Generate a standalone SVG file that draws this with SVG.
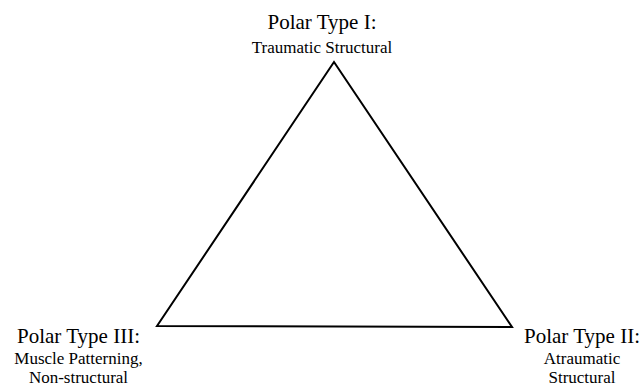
<svg xmlns="http://www.w3.org/2000/svg" width="644" height="386" viewBox="0 0 644 386">
<style>
.t{font-family:"Liberation Serif","Times New Roman",serif;fill:#000;text-anchor:middle}
.h{font-size:21px}
.s{font-size:17px}
.edge{fill:none;stroke:#000;stroke-width:2;stroke-linejoin:miter}
</style>
<rect width="644" height="386" fill="#fff"/>
<g id="connectors">
<polygon class="edge" points="334,62 157,326 512,327"/>
</g>
<g id="node-type1">
<text class="t h" x="322" y="29">Polar Type I:</text>
<text class="t s" x="322" y="53">Traumatic Structural</text>
</g>
<g id="node-type3">
<text class="t h" x="78.5" y="343">Polar Type III:</text>
<text class="t s" x="78.5" y="364">Muscle Patterning,</text>
<text class="t s" x="78.5" y="383">Non-structural</text>
</g>
<g id="node-type2">
<text class="t h" x="582" y="343">Polar Type II:</text>
<text class="t s" x="582" y="364">Atraumatic</text>
<text class="t s" x="582" y="383">Structural</text>
</g>
</svg>
